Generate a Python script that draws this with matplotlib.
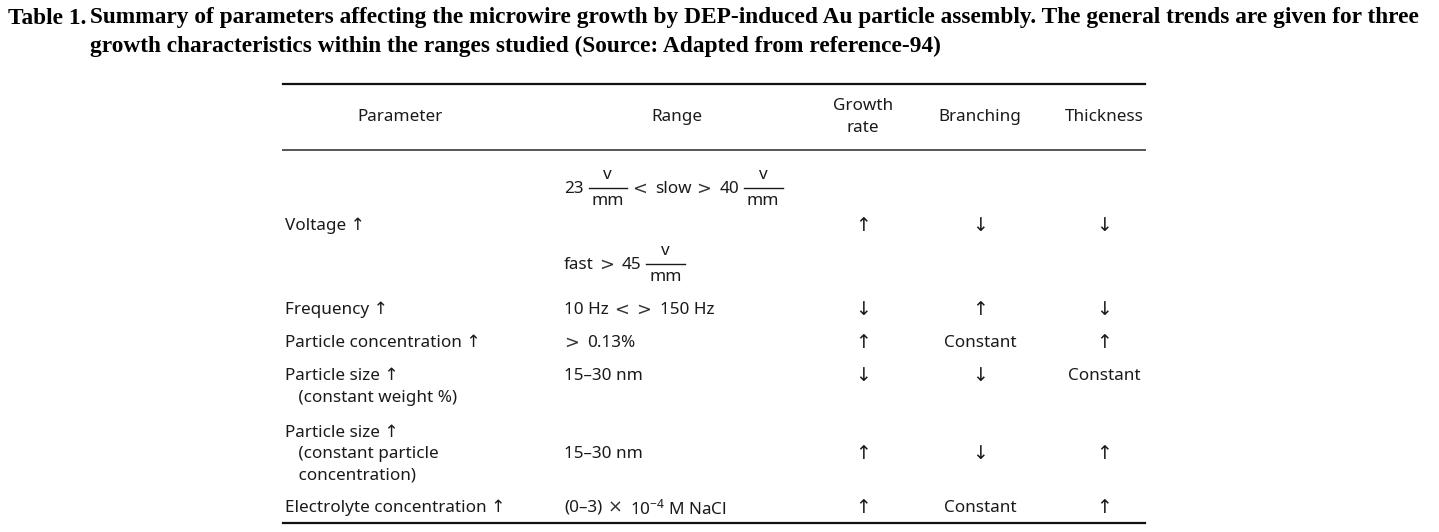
import matplotlib.pyplot as plt

# Table content
caption_label = "Table 1."
caption_lines = [
    "Summary of parameters affecting the microwire growth by DEP-induced Au particle assembly. The general trends are given for three",
    "growth characteristics within the ranges studied (Source: Adapted from reference-94)",
]
headers = ["Parameter", "Range", "Growth\nrate", "Branching", "Thickness"]
parameters = [
    "Voltage ↑",
    "Frequency ↑",
    "Particle concentration ↑",
    "Particle size ↑\n   (constant weight %)",
    "Particle size ↑\n   (constant particle\n   concentration)",
    "Electrolyte concentration ↑",
]
# range cells as pieces: plain strings, ("sym", char) for relation signs,
# ("frac", numerator, denominator) for stacked fractions
ranges = [
    None,  # voltage row is drawn as two lines below
    ["10 Hz", ("sym", "<"), ("sym", ">"), "150 Hz"],
    [("sym", ">"), "0.13%"],
    ["15–30 nm"],
    ["15–30 nm"],
    ["(0–3)", ("sym", "×"), "10$^{-4}$ M NaCl"],
]
voltage_ranges = [
    ["23", ("frac", "v", "mm"), ("sym", "<"), "slow", ("sym", ">"), "40", ("frac", "v", "mm")],
    ["fast", ("sym", ">"), "45", ("frac", "v", "mm")],
]
growth_rate = ["↑", "↓", "↑", "↓", "↑", "↑"]
branching = ["↓", "↑", "Constant", "↓", "↓", "Constant"]
thickness = ["↓", "↓", "↑", "Constant", "↑", "↑"]

# Layout (pixel coordinates)
W, H = 1439, 532
row_param_y = [226, 310, 343, 387, 454, 508]
row_value_y = [226, 310, 343, 376, 454, 508]
voltage_range_y = [189, 265]
x_param, x_range = 285, 564
header_x = [400, 677, 863, 980, 1104]
table_left, table_right = 283, 1145
gap = 5

plt.rcParams["mathtext.fontset"] = "custom"
plt.rcParams["mathtext.rm"] = "Noto Sans"
plt.rcParams["mathtext.it"] = "Noto Sans:italic"
plt.rcParams["mathtext.bf"] = "Noto Sans:bold"

body = dict(family=["Noto Sans", "DejaVu Sans"], fontsize=12.3, color="#1a1a1a")
sym_style = dict(family="DejaVu Sans", fontsize=12.8, color="#333333")

fig = plt.figure(figsize=(W / 100, H / 100), dpi=100)
ax = fig.add_axes([0, 0, 1, 1])
ax.set_xlim(0, W)
ax.set_ylim(H, 0)
ax.axis("off")
renderer = fig.canvas.get_renderer()


def text_width(t):
    return t.get_window_extent(renderer=renderer).width


def draw_inline(x, y, pieces):
    """Draw a run of text pieces (text, signs, stacked fractions) left to right."""
    for k, piece in enumerate(pieces):
        if k > 0:
            x += gap
        if isinstance(piece, tuple) and piece[0] == "frac":
            _, num, den = piece
            bar_y = y - 1
            tn = ax.text(0, bar_y - 9, num, ha="center", va="baseline", **body)
            td = ax.text(0, bar_y + 17, den, ha="center", va="baseline", **body)
            w = max(text_width(tn), text_width(td)) + 6
            tn.set_x(x + w / 2)
            td.set_x(x + w / 2)
            ax.plot([x, x + w], [bar_y, bar_y], color="#1a1a1a", lw=1.0)
            x += w
        elif isinstance(piece, tuple) and piece[0] == "sym":
            t = ax.text(x, y, piece[1], ha="left", va="center", **sym_style)
            x += text_width(t) + 3
        else:
            t = ax.text(x, y, piece, ha="left", va="center", **body)
            x += text_width(t)


# Caption
cap = dict(family="Liberation Serif", fontweight="bold", fontsize=16.8, color="black",
           va="center", ha="left")
ax.text(8, 18, caption_label, **cap)
ax.text(90, 18, caption_lines[0], **cap)
ax.text(90, 46, caption_lines[1], **cap)

# Rules
ax.plot([table_left, table_right], [84, 84], color="#111111", lw=1.6)
ax.plot([table_left, table_right], [150, 150], color="#555555", lw=1.4)
ax.plot([table_left, table_right], [523, 523], color="#111111", lw=1.6)

# Header
for hx, h in zip(header_x, headers):
    ax.text(hx, 117, h, ha="center", va="center", linespacing=1.45, **body)

# Body rows
trend_x = header_x[2:]
arrow_style = dict(body, fontsize=13.5)
for i, p in enumerate(parameters):
    ax.text(x_param, row_param_y[i], p, ha="left", va="center", linespacing=1.42, **body)
    if ranges[i] is not None:
        draw_inline(x_range, row_value_y[i], ranges[i])
    for xc, vals in zip(trend_x, [growth_rate, branching, thickness]):
        style = arrow_style if vals[i] in ("↑", "↓") else body
        ax.text(xc, row_value_y[i], vals[i], ha="center", va="center", **style)

for vy, pieces in zip(voltage_range_y, voltage_ranges):
    draw_inline(x_range, vy, pieces)

fig.savefig("out.png", dpi=100)
